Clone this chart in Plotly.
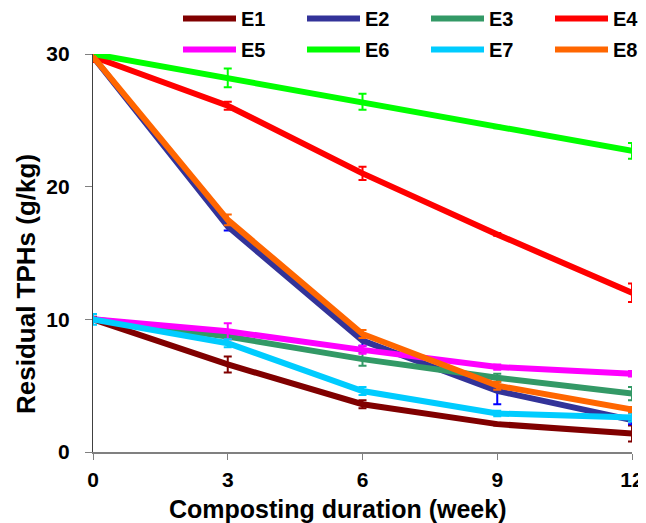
import plotly.graph_objects as go

weeks = [0, 3, 6, 9, 12]
series_names = ["E1", "E2", "E3", "E4", "E5", "E6", "E7", "E8"]
E1 = [10.0, 6.6, 3.6, 2.1, 1.4]
E2 = [29.8, 17.0, 8.4, 4.6, 2.4]
E3 = [10.0, 8.7, 7.0, 5.6, 4.4]
E4 = [29.8, 26.1, 21.0, 16.4, 12.0]
E5 = [10.0, 9.1, 7.7, 6.4, 5.9]
E6 = [30.0, 28.2, 26.4, 24.5, 22.7]
E7 = [10.0, 8.2, 4.6, 2.9, 2.6]
E8 = [29.8, 17.5, 8.9, 5.0, 3.2]
E1_err = [0.2, 0.6, 0.3, 0.1, 0.6]
E2_err = [0.2, 0.3, 0.4, 1.0, 0.3]
E3_err = [0.1, 0.2, 0.5, 0.3, 0.5]
E4_err = [0.4, 0.3, 0.5, 0.1, 0.7]
E5_err = [0.1, 0.6, 0.3, 0.2, 0.2]
E6_err = [0.1, 0.7, 0.6, 0.1, 0.6]
E7_err = [0.4, 0.3, 0.3, 0.2, 0.3]
E8_err = [0.3, 0.4, 0.3, 0.3, 0.2]
colors = ["#800000", "#333399", "#339966", "#FF0000", "#FF00FF", "#00FF00", "#00CCFF", "#FF6600"]
err_colors = ["#800000", "#0000FF", "#339966", "#FF0000", "#FF00FF", "#00FF00", "#00CCFF", "#FF6600"]
x_title = "Composting duration (week)"
y_title = "Residual TPHs (g/kg)"

values = [E1, E2, E3, E4, E5, E6, E7, E8]
errors = [E1_err, E2_err, E3_err, E4_err, E5_err, E6_err, E7_err, E8_err]

W, H = 646, 523
ML, MR, MT, MB = 85, 22, 46, 79
paper_h = H - MT - MB
paper_w = W - ML - MR
plot_bottom = H - MB


def px_x(xp):
    return (xp - ML) / paper_w


def px_y(yp):
    return (plot_bottom - yp) / paper_h


legend_ids = ["legend", "legend2", "legend3", "legend4"]

fig = go.Figure()
for i, (name, vals, errs, c, ec) in enumerate(zip(series_names, values, errors, colors, err_colors)):
    fig.add_trace(go.Scatter(
        x=weeks, y=vals, name=name, mode="lines",
        line=dict(color=c, width=6),
        error_y=dict(type="data", array=errs, visible=True, color=ec, thickness=2, width=4),
        cliponaxis=False,
        legend=legend_ids[i % 4],
        legendgroup=name,
    ))

font_main = "Liberation Sans, Arial, sans-serif"
legend_common = dict(
    orientation="v", xanchor="left", yanchor="middle",
    font=dict(size=20, family=font_main, weight="bold"),
    itemwidth=53, tracegroupgap=2, bgcolor="rgba(0,0,0,0)",
)
legend_layout = {}
for k, lid in enumerate(legend_ids):
    legend_layout[lid] = dict(legend_common, x=px_x(170 + 124 * k), y=px_y(26))

fig.update_layout(
    width=W, height=H,
    margin=dict(l=ML, r=MR, t=MT, b=MB, pad=0, autoexpand=False),
    paper_bgcolor="white", plot_bgcolor="white",
    font=dict(family=font_main, color="black"),
    showlegend=True,
    **legend_layout,
    xaxis=dict(
        range=[0, 12], tickvals=weeks, ticks="outside", ticklen=6, tickcolor="#808080",
        showline=True, linecolor="#808080", linewidth=1.5, showgrid=False, zeroline=False,
        tickfont=dict(size=21, family=font_main, weight="bold"),
        ticklabelstandoff=2,
        automargin=False,
    ),
    yaxis=dict(
        range=[0, 30], tickvals=[0, 10, 20, 30], ticks="outside", ticklen=7, tickcolor="#808080",
        showline=True, linecolor="#404040", linewidth=1.2, showgrid=False, zeroline=False,
        tickfont=dict(size=21, family=font_main, weight="bold"),
        ticklabelstandoff=11,
        automargin=False,
    ),
    annotations=[
        dict(text=x_title, xref="paper", yref="paper", x=px_x(330), y=px_y(501),
             xanchor="center", yanchor="middle", showarrow=False,
             font=dict(size=25, family=font_main, weight="bold", color="black")),
        dict(text=y_title, xref="paper", yref="paper", x=px_x(18), y=px_y(276),
             xanchor="center", yanchor="middle", showarrow=False, textangle=-90,
             font=dict(size=26, family=font_main, weight="bold", color="black")),
    ],
)

fig.write_html("out.html")
